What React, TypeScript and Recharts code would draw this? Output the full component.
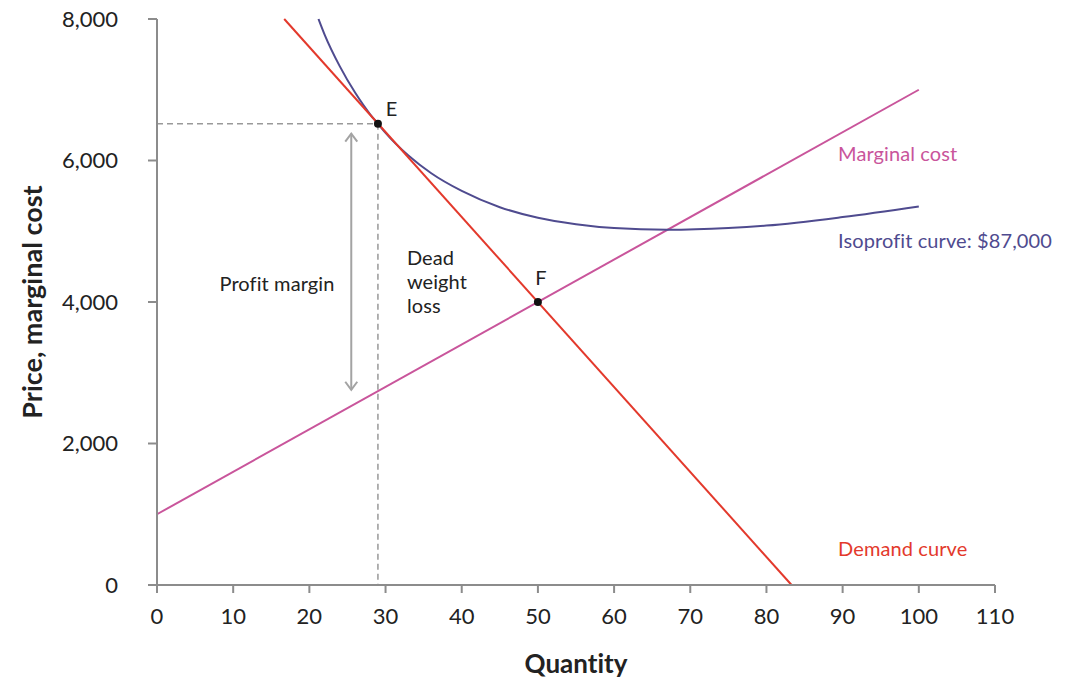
import React from "react";
import {
  ComposedChart,
  Line,
  XAxis,
  YAxis,
  ReferenceLine,
  ReferenceDot,
  Label,
} from "recharts";

const xTicks = [0, 10, 20, 30, 40, 50, 60, 70, 80, 90, 100, 110];
const yTicks = [0, 2000, 4000, 6000, 8000];

const demandQ = [16.7, 83.3];
const demandP = [8000, 0];

const mcQ = [0, 100];
const mcP = [1000, 7000];

const isoQ = [21.2, 22, 24, 26, 28, 29, 30, 33, 36, 40, 45, 50, 55, 60, 67, 75, 80, 90, 100];
const isoP = [8000, 7780, 7330, 6960, 6650, 6520, 6390, 6070, 5820, 5570, 5340, 5190, 5100, 5045, 5020, 5045, 5080, 5200, 5350];

const pointE = { q: 29, p: 6520 };
const pointF = { q: 50, p: 4000 };
const marginArrow = { q: 25.5, from: 6380, to: 2760 };

const RED = "#e3392c";
const PINK = "#c9559b";
const PURPLE = "#4f4b8f";
const GREY = "#8c8c8c";
const FONT = "Lato, 'Noto Sans', sans-serif";

const labels = [
  { text: "E", q: 30.8, p: 6742, color: "#222", anchor: "middle" },
  { text: "F", q: 50.4, p: 4353, color: "#222", anchor: "middle" },
  { text: "Profit margin", q: 15.75, p: 4268, color: "#222", anchor: "middle" },
  { text: "Dead", q: 32.8, p: 4636, color: "#222", anchor: "start" },
  { text: "weight", q: 32.8, p: 4297, color: "#222", anchor: "start" },
  { text: "loss", q: 32.8, p: 3958, color: "#222", anchor: "start" },
  { text: "Marginal cost", q: 89.4, p: 6106, color: PINK, anchor: "start" },
  { text: "Isoprofit curve: $87,000", q: 89.4, p: 4876, color: PURPLE, anchor: "start" },
  { text: "Demand curve", q: 89.4, p: 523, color: RED, anchor: "start" },
];

const toRows = (qs: number[], ps: number[]) => qs.map((q, i) => ({ q, p: ps[i] }));

const demand = toRows(demandQ, demandP);
const mc = toRows(mcQ, mcP);
const iso = toRows(isoQ, isoP);

const noLig = { fontVariantLigatures: "none", fontFeatureSettings: '"liga" 0, "clig" 0' } as any;

const ArrowShape = (props: any) => {
  const { x1, y1, x2, y2 } = props;
  const top = Math.min(y1, y2);
  const bot = Math.max(y1, y2);
  const x = x1;
  return (
    <g stroke="#a3a3a3" strokeWidth={2} fill="none">
      <line x1={x} y1={top} x2={x2} y2={bot} />
      <polyline points={`${x - 6},${top + 8} ${x},${top} ${x + 6},${top + 8}`} />
      <polyline points={`${x - 6},${bot - 8} ${x},${bot} ${x + 6},${bot - 8}`} />
    </g>
  );
};

export default function App() {
  return (
    <div style={{ position: "fixed", left: 0, top: 0, width: 1071, height: 682, background: "#fff", ...noLig }}>
      <ComposedChart
        width={1071}
        height={682}
        margin={{ top: 19, right: 76, bottom: 37, left: 0 }}
        style={{ fontFamily: FONT }}
      >
        <XAxis
          type="number"
          dataKey="q"
          domain={[0, 110]}
          ticks={xTicks}
          interval={0}
          height={60}
          stroke={GREY}
          strokeWidth={2}
          tickSize={8}
          tickMargin={15}
          tick={{ fill: "#222", fontSize: 22, fontFamily: FONT }}
          allowDuplicatedCategory={false}
        >
          <Label
            content={(props: any) => {
              const vb = props.viewBox || { x: 157, width: 838 };
              return (
                <text
                  x={vb.x + vb.width / 2}
                  y={663}
                  textAnchor="middle"
                  dominantBaseline="central"
                  fontSize={26}
                  fontWeight={700}
                  fill="#222"
                  fontFamily={FONT}
                >
                  Quantity
                </text>
              );
            }}
          />
        </XAxis>
        <YAxis
          type="number"
          dataKey="p"
          domain={[0, 8000]}
          ticks={yTicks}
          interval={0}
          width={157}
          stroke={GREY}
          strokeWidth={2}
          tickSize={9}
          tickMargin={30}
          tick={{ fill: "#222", fontSize: 22, fontFamily: FONT }}
          tickFormatter={(v) => v.toLocaleString("en-US")}
        >
          <Label
            content={(props: any) => {
              const vb = props.viewBox || { y: 19, height: 566 };
              const cx = 31;
              const cy = vb.y + vb.height / 2;
              return (
                <text
                  x={cx}
                  y={cy}
                  transform={`rotate(-90 ${cx} ${cy})`}
                  textAnchor="middle"
                  dominantBaseline="central"
                  fontSize={27}
                  fontWeight={700}
                  fill="#222"
                  fontFamily={FONT}
                >
                  Price, marginal cost
                </text>
              );
            }}
          />
        </YAxis>

        <ReferenceLine
          segment={[{ x: 0, y: pointE.p }, { x: pointE.q, y: pointE.p }]}
          stroke="#999"
          strokeWidth={1.5}
          strokeDasharray="6 4"
        />
        <ReferenceLine
          segment={[{ x: pointE.q, y: pointE.p }, { x: pointE.q, y: 0 }]}
          stroke="#999"
          strokeWidth={1.5}
          strokeDasharray="6 4"
        />
        <ReferenceLine
          segment={[{ x: marginArrow.q, y: marginArrow.from }, { x: marginArrow.q, y: marginArrow.to }]}
          shape={ArrowShape}
        />

        <Line data={mc} dataKey="p" type="linear" stroke={PINK} strokeWidth={2} dot={false} isAnimationActive={false} />
        <Line data={iso} dataKey="p" type="monotone" stroke={PURPLE} strokeWidth={2} dot={false} isAnimationActive={false} />
        <Line data={demand} dataKey="p" type="linear" stroke={RED} strokeWidth={2} dot={false} isAnimationActive={false} />

        <ReferenceDot x={pointE.q} y={pointE.p} r={4} fill="#111" stroke="none" />
        <ReferenceDot x={pointF.q} y={pointF.p} r={4} fill="#111" stroke="none" />

        {labels.map((l) => (
          <ReferenceDot
            key={l.text}
            x={l.q}
            y={l.p}
            r={0}
            shape={(props: any) => (
              <text
                x={props.cx}
                y={props.cy}
                textAnchor={l.anchor as any}
                dominantBaseline="central"
                fontSize={20}
                fill={l.color}
                fontFamily={FONT}
                letterSpacing={0.1}
                style={noLig}
              >
                {l.text}
              </text>
            )}
          />
        ))}
      </ComposedChart>
    </div>
  );
}
